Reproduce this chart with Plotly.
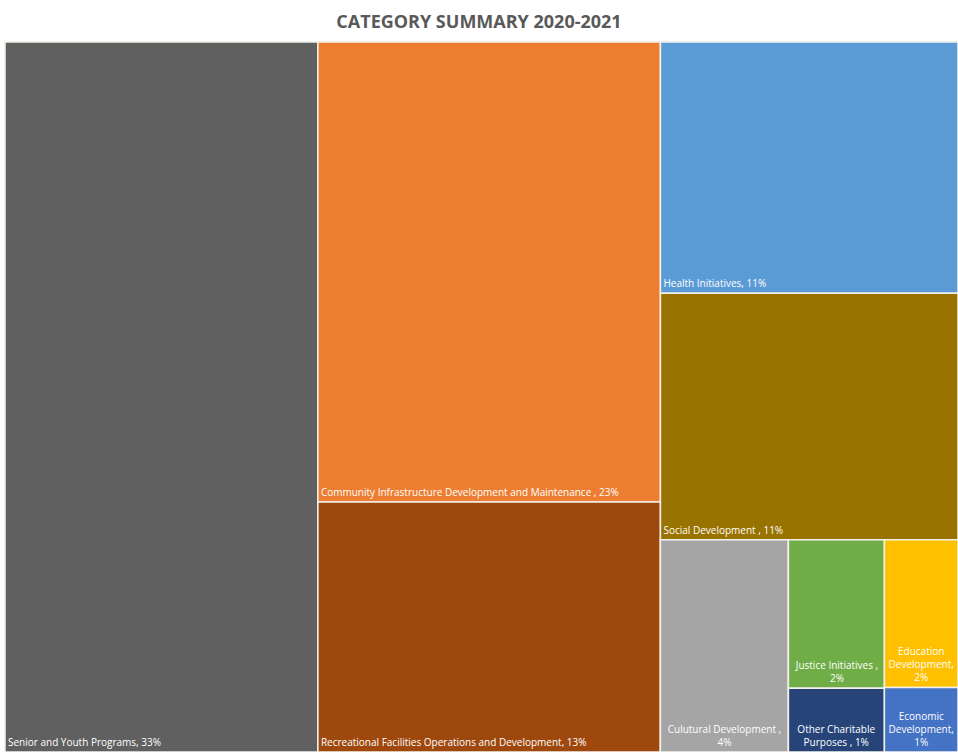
import plotly.graph_objects as go

# Leaf categories, values estimated from tile areas
categories = [
    "Senior and Youth Programs",
    "Community Infrastructure Development and Maintenance",
    "Recreational Facilities Operations and Development",
    "Health Initiatives",
    "Social Development",
    "Culutural Development",
    "Justice Initiatives",
    "Other Charitable Purposes",
    "Education Development",
    "Economic Development",
]
values = [32.7, 23.2, 12.6, 11.0, 10.8, 4.0, 2.1, 0.9, 1.6, 0.7]
pct_labels = [
    "Senior and Youth Programs, 33%",
    "Community Infrastructure Development and Maintenance , 23%",
    "Recreational Facilities Operations and Development, 13%",
    "Health Initiatives, 11%",
    "Social Development , 11%",
    "Culutural Development ,<br>4%",
    "Justice Initiatives ,<br>2%",
    "Other Charitable<br>Purposes , 1%",
    "Education<br>Development,<br>2%",
    "Economic<br>Development,<br>1%",
]
# labels that are centered in their (small) tiles
centered = [False, False, False, False, False, True, True, True, True, True]
colors = ["#606060", "#ED7D31", "#9E480E", "#5B9BD5", "#997300",
          "#A5A5A5", "#70AD47", "#264478", "#FFC000", "#4472C4"]

# Layout grouping (tile arrangement like the original)
leaf_parents = ["root", "colB", "colB", "colC", "colC",
                "bottom", "jcol", "jcol", "ecol", "ecol"]
group_ids = ["root", "colB", "colC", "bottom", "jcol", "ecol"]
group_parents = ["", "root", "root", "colC", "bottom", "bottom"]

leaf_ids = ["leaf%d" % i for i in range(len(categories))]

val_map = dict(zip(leaf_ids, values))
par_map = dict(zip(leaf_ids, leaf_parents))
par_map.update(dict(zip(group_ids, group_parents)))
totals = {g: 0.0 for g in group_ids}
for lid, v in val_map.items():
    p = par_map[lid]
    while p:
        totals[p] += v
        p = par_map[p]

order = ["root", "leaf0", "colB", "leaf1", "leaf2", "colC", "leaf3", "leaf4",
         "bottom", "leaf5", "jcol", "leaf6", "leaf7", "ecol", "leaf8", "leaf9"]

ids, labels, parents, vals, cols = [], [], [], [], []
text_left, text_center = [], []
for nid in order:
    ids.append(nid)
    if nid in group_ids:
        labels.append(nid)
        parents.append(par_map[nid])
        vals.append(totals[nid])
        text_left.append("")
        text_center.append("")
        cols.append("#FFFFFF")
    else:
        i = leaf_ids.index(nid)
        labels.append(categories[i])
        parents.append(par_map[nid])
        vals.append(values[i])
        cols.append(colors[i])
        if centered[i]:
            text_left.append("")
            text_center.append(pct_labels[i])
        else:
            text_left.append(pct_labels[i])
            text_center.append("")

common = dict(
    ids=ids, labels=labels, parents=parents, values=vals,
    texttemplate="%{text}", branchvalues="total", sort=False,
    tiling=dict(packing="slice-dice", pad=0),
    pathbar=dict(visible=False),
    textfont=dict(family="Open Sans, sans-serif", size=10, color="white"),
)

fig = go.Figure()
fig.add_trace(go.Treemap(
    text=text_left,
    marker=dict(colors=cols, line=dict(color="#F4F1EA", width=1.5),
                pad=dict(t=0, l=0, r=0, b=0)),
    textposition="bottom left",
    hoverinfo="label+value",
    **common,
))
fig.add_trace(go.Treemap(
    text=text_center,
    marker=dict(colors=["rgba(0,0,0,0)"] * len(ids), line=dict(width=0),
                pad=dict(t=0, l=0, r=0, b=0)),
    textposition="bottom center",
    hoverinfo="skip",
    **common,
))

W, H = 958, 752
fig.update_layout(
    width=W, height=H,
    margin=dict(l=5, r=0, t=42, b=0),
    paper_bgcolor="white",
    title=dict(text="<b>CATEGORY SUMMARY 2020-2021</b>", x=0.5, xanchor="center",
               yref="container", y=1 - 21.5 / H, yanchor="middle",
               font=dict(family="Open Sans, sans-serif", size=18, color="#595959")),
)

fig.write_html(
    "out.html",
    config={"displayModeBar": False},
    post_script="document.body.style.margin='0';document.body.style.overflow='hidden';",
)
